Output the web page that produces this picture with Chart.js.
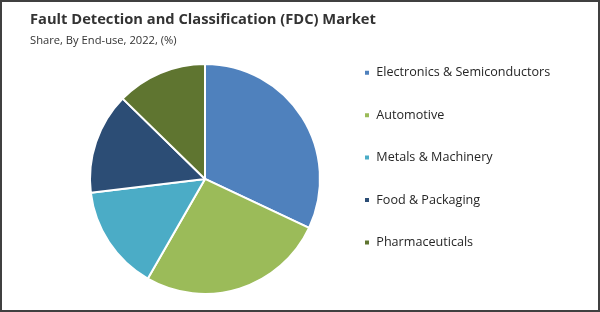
<!DOCTYPE html>
<html>
<head>
<meta charset="utf-8">
<script src="https://cdn.jsdelivr.net/npm/chart.js@4.4.1/dist/chart.umd.min.js"></script>
<style>
  html, body { margin: 0; padding: 0; background: #fff; }
  #wrap { position: relative; width: 600px; height: 312px; }
  #c { position: absolute; left: 0; top: 0; }
  #frame { position: absolute; left: 0; top: 0; width: 600px; height: 312px; box-sizing: border-box; border: 2px solid #404040; pointer-events: none; }
</style>
</head>
<body>
<div id="wrap">
  <canvas id="c" width="600" height="312"></canvas>
  <div id="frame"></div>
</div>
<script>
const titleText = 'Fault Detection and Classification (FDC) Market';
const subtitleText = 'Share, By End-use, 2022, (%)';
const categories = ['Electronics & Semiconductors', 'Automotive', 'Metals & Machinery', 'Food & Packaging', 'Pharmaceuticals'];
const shares = [32.0, 26.3, 14.8, 14.2, 12.7];
const sliceColors = ['#4f81bd', '#9bbb59', '#4bacc6', '#2c4d75', '#5f7530'];

const FONT = "'Open Sans', 'Segoe UI', sans-serif";
const LEGEND_X = 364;
const LEGEND_Y = 66.5;
const LEGEND_PAD = 29.8;
const PIE_LEFT = 30;
const PIE_RIGHT = 380;

const legendPlacer = {
  id: 'legendPlacer',
  afterLayout(chart) {
    const lg = chart.legend;
    if (lg) {
      const w = lg.width;
      lg.left = LEGEND_X - LEGEND_PAD;
      lg.right = lg.left + w;
      lg.top = LEGEND_Y - LEGEND_PAD;
    }
    const ca = chart.chartArea;
    ca.left = PIE_LEFT;
    ca.right = PIE_RIGHT;
    ca.width = PIE_RIGHT - PIE_LEFT;
  }
};

new Chart(document.getElementById('c'), {
  type: 'pie',
  data: {
    labels: categories,
    datasets: [{
      data: shares,
      backgroundColor: sliceColors,
      borderColor: '#ffffff',
      borderWidth: 2,
      radius: 115
    }]
  },
  options: {
    responsive: false,
    animation: false,
    layout: { padding: { left: 30, right: 0, top: 0, bottom: 4 } },
    plugins: {
      title: {
        display: true,
        text: titleText,
        align: 'start',
        color: '#333333',
        font: { family: FONT, size: 14.7, weight: 'bold' },
        padding: { top: 11, bottom: 2 }
      },
      subtitle: {
        display: true,
        text: subtitleText,
        align: 'start',
        color: '#333333',
        font: { family: FONT, size: 11.2 },
        padding: { top: 3.4, bottom: 2.4 }
      },
      legend: {
        display: true,
        position: 'right',
        align: 'start',
        labels: {
          boxWidth: 6,
          boxHeight: 6,
          padding: LEGEND_PAD,
          color: '#262626',
          font: { family: FONT, size: 12.6 }
        }
      },
      tooltip: { enabled: false }
    }
  },
  plugins: [legendPlacer]
});
</script>
</body>
</html>
